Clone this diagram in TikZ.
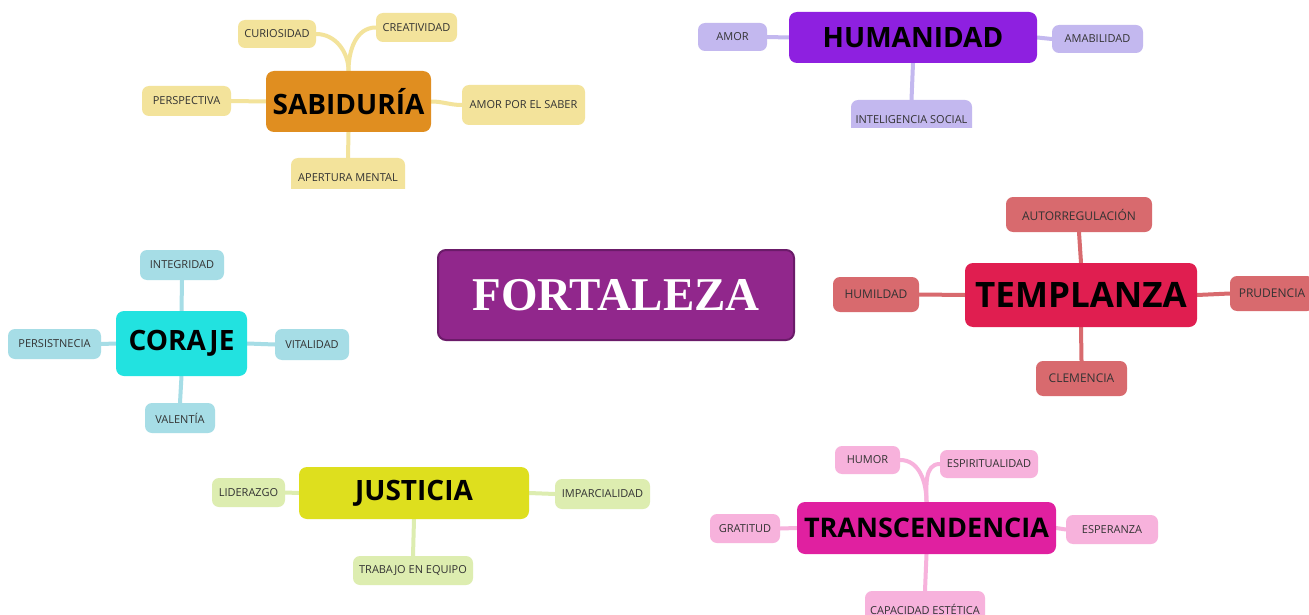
\documentclass[tikz,border=0pt]{standalone}
\usepackage{fontspec}
\setmainfont{Open Sans}
\newfontfamily\ftitle{Liberation Serif}
\usetikzlibrary{backgrounds}
\definecolor{txt}{HTML}{333333}
\definecolor{sabm}{HTML}{E08E20}\definecolor{sabl}{HTML}{F3E39B}
\definecolor{humm}{HTML}{8E20E0}\definecolor{huml}{HTML}{C3B8EF}
\definecolor{corm}{HTML}{22E2E0}\definecolor{corl}{HTML}{A6DDE6}
\definecolor{temm}{HTML}{E01E50}\definecolor{teml}{HTML}{D86A6E}
\definecolor{jusm}{HTML}{DEDF1E}\definecolor{jusl}{HTML}{DDEDB0}
\definecolor{trsm}{HTML}{E020A0}\definecolor{trsl}{HTML}{F7B2DC}
\definecolor{fortm}{HTML}{91278C}\definecolor{fortd}{HTML}{6B1B69}
\begin{document}
\begin{tikzpicture}[x=1pt,y=-1pt,
  mainbox/.style={rounded corners=8pt, inner sep=0pt, text=black, font=\bfseries\fontsize{28}{28}\selectfont},
  leaf/.style={rounded corners=7pt, inner sep=0pt, text=txt, font=\fontsize{11}{11}\selectfont},
  sz/.style 2 args={minimum width=#1pt, minimum height=#2pt},
  br/.style={line width=4pt, line cap=round}]
\clip (0,0) rectangle (1309,615);

% FORTALEZA
\node[rounded corners=8pt, inner sep=0pt, fill=fortm, draw=fortd, line width=2pt, text=white,
  font=\ftitle\bfseries\fontsize{47}{47}\selectfont, sz={356}{90}] (fort) at (616,295) {FORTALEZA};

% SABIDURIA
\node[mainbox, fill=sabm, sz={165}{61}] (sab) at (348.5,101.5) {SABIDURÍA};
\node[leaf, fill=sabl, sz={78}{28}] (cur) at (277,34) {CURIOSIDAD};
\node[leaf, fill=sabl, sz={81}{29}] (cre) at (416.5,27.5) {CREATIVIDAD};
\node[leaf, fill=sabl, sz={89}{30}] (per) at (186.5,101) {PERSPECTIVA};
\node[leaf, fill=sabl, sz={123}{40}] (aps) at (523.5,105) {AMOR POR EL SABER};
\begin{scope}
\clip (0,0) rectangle (1309,188);
\node[leaf, fill=sabl, sz={114}{40}] (ape) at (348,178) {APERTURA MENTAL};
\end{scope}

% HUMANIDAD
\node[mainbox, fill=humm, sz={248}{51}] (hum) at (913,37.5) {HUMANIDAD};
\node[leaf, fill=huml, sz={69}{28}] (amo) at (732.5,37) {AMOR};
\node[leaf, fill=huml, sz={91}{28}] (ama) at (1097.5,39) {AMABILIDAD};
\begin{scope}
\clip (0,0) rectangle (1309,128);
\node[leaf, fill=huml, sz={121}{40}] (ints) at (911.5,120) {INTELIGENCIA SOCIAL};
\end{scope}

% CORAJE
\node[mainbox, fill=corm, sz={131}{65}] (cor) at (181.5,343.5) {CORAJE};
\node[leaf, fill=corl, sz={84}{30}] (integ) at (182,265) {INTEGRIDAD};
\node[leaf, fill=corl, sz={93}{30}] (pers) at (54.5,344) {PERSISTNECIA};
\node[leaf, fill=corl, sz={74}{31}] (vit) at (312,344.5) {VITALIDAD};
\node[leaf, fill=corl, sz={70}{30}] (val) at (180,418) {VALENTÍA};

% TEMPLANZA
\node[mainbox, fill=temm, sz={232}{64}, font=\bfseries\fontsize{35}{35}\selectfont] (tem) at (1081,295) {TEMPLANZA};
\node[leaf, fill=teml, sz={146}{35}, font=\fontsize{12}{12}\selectfont] (aut) at (1079,214.5) {AUTORREGULACIÓN};
\node[leaf, fill=teml, sz={86}{35}, font=\fontsize{12}{12}\selectfont] (humil) at (876,294.5) {HUMILDAD};
\node[leaf, fill=teml, sz={84}{35}, font=\fontsize{12}{12}\selectfont] (pru) at (1272,293.5) {PRUDENCIA};
\node[leaf, fill=teml, sz={91}{35}, font=\fontsize{12}{12}\selectfont] (cle) at (1081.5,378.5) {CLEMENCIA};

% JUSTICIA
\node[mainbox, fill=jusm, sz={230}{52}] (jus) at (414,493) {JUSTICIA};
\node[leaf, fill=jusl, sz={73}{29}] (lid) at (248.5,492.5) {LIDERAZGO};
\node[leaf, fill=jusl, sz={95}{30}] (imp) at (602.5,494) {IMPARCIALIDAD};
\node[leaf, fill=jusl, sz={120}{29}] (tra) at (413,570.5) {TRABAJO EN EQUIPO};

% TRANSCENDENCIA
\node[mainbox, fill=trsm, sz={259}{52}, font=\bfseries\fontsize{27}{27}\selectfont] (trs) at (926.5,528) {TRANSCENDENCIA};
\node[leaf, fill=trsl, sz={65}{28}] (hmr) at (867.5,460) {HUMOR};
\node[leaf, fill=trsl, sz={98}{28}] (esp) at (989,464) {ESPIRITUALIDAD};
\node[leaf, fill=trsl, sz={70}{29}] (gra) at (745,528.5) {GRATITUD};
\node[leaf, fill=trsl, sz={92}{29}] (esz) at (1112,529.5) {ESPERANZA};
\node[leaf, fill=trsl, sz={120}{36}] (cap) at (925,609) {CAPACIDAD ESTÉTICA};

\begin{pgfonlayer}{background}
\fill[white] (0,0) rectangle (1309,615);
\draw[br, sabl] (sab.north) to[out=90,in=0] (cur.east);
\draw[br, sabl] (sab.north) to[out=90,in=180] (cre.west);
\draw[br, sabl] (sab.west) -- (per.east);
\draw[br, sabl] (sab.east) to[out=0,in=180] (aps.west);
\draw[br, sabl] (sab.south) -- (ape.north);
\draw[br, huml] (hum.west) -- (amo.east);
\draw[br, huml] (hum.east) -- (ama.west);
\draw[br, huml] (hum.south) -- (ints.north);
\draw[br, corl] (cor.north) -- (integ.south);
\draw[br, corl] (cor.west) -- (pers.east);
\draw[br, corl] (cor.east) -- (vit.west);
\draw[br, corl] (cor.south) -- (val.north);
\draw[br, teml] (tem.north) -- (aut.south);
\draw[br, teml] (tem.west) -- (humil.east);
\draw[br, teml] (tem.east) -- (pru.west);
\draw[br, teml] (tem.south) -- (cle.north);
\draw[br, jusl] (jus.west) -- (lid.east);
\draw[br, jusl] (jus.east) -- (imp.west);
\draw[br, jusl] (jus.south) -- (tra.north);
\draw[br, trsl] (trs.north) to[out=90,in=0] (hmr.east);
\draw[br, trsl] (trs.north) to[out=90,in=180] (esp.west);
\draw[br, trsl] (trs.west) -- (gra.east);
\draw[br, trsl] (trs.east) -- (esz.west);
\draw[br, trsl] (trs.south) -- (cap.north);
\end{pgfonlayer}
\end{tikzpicture}
\end{document}
